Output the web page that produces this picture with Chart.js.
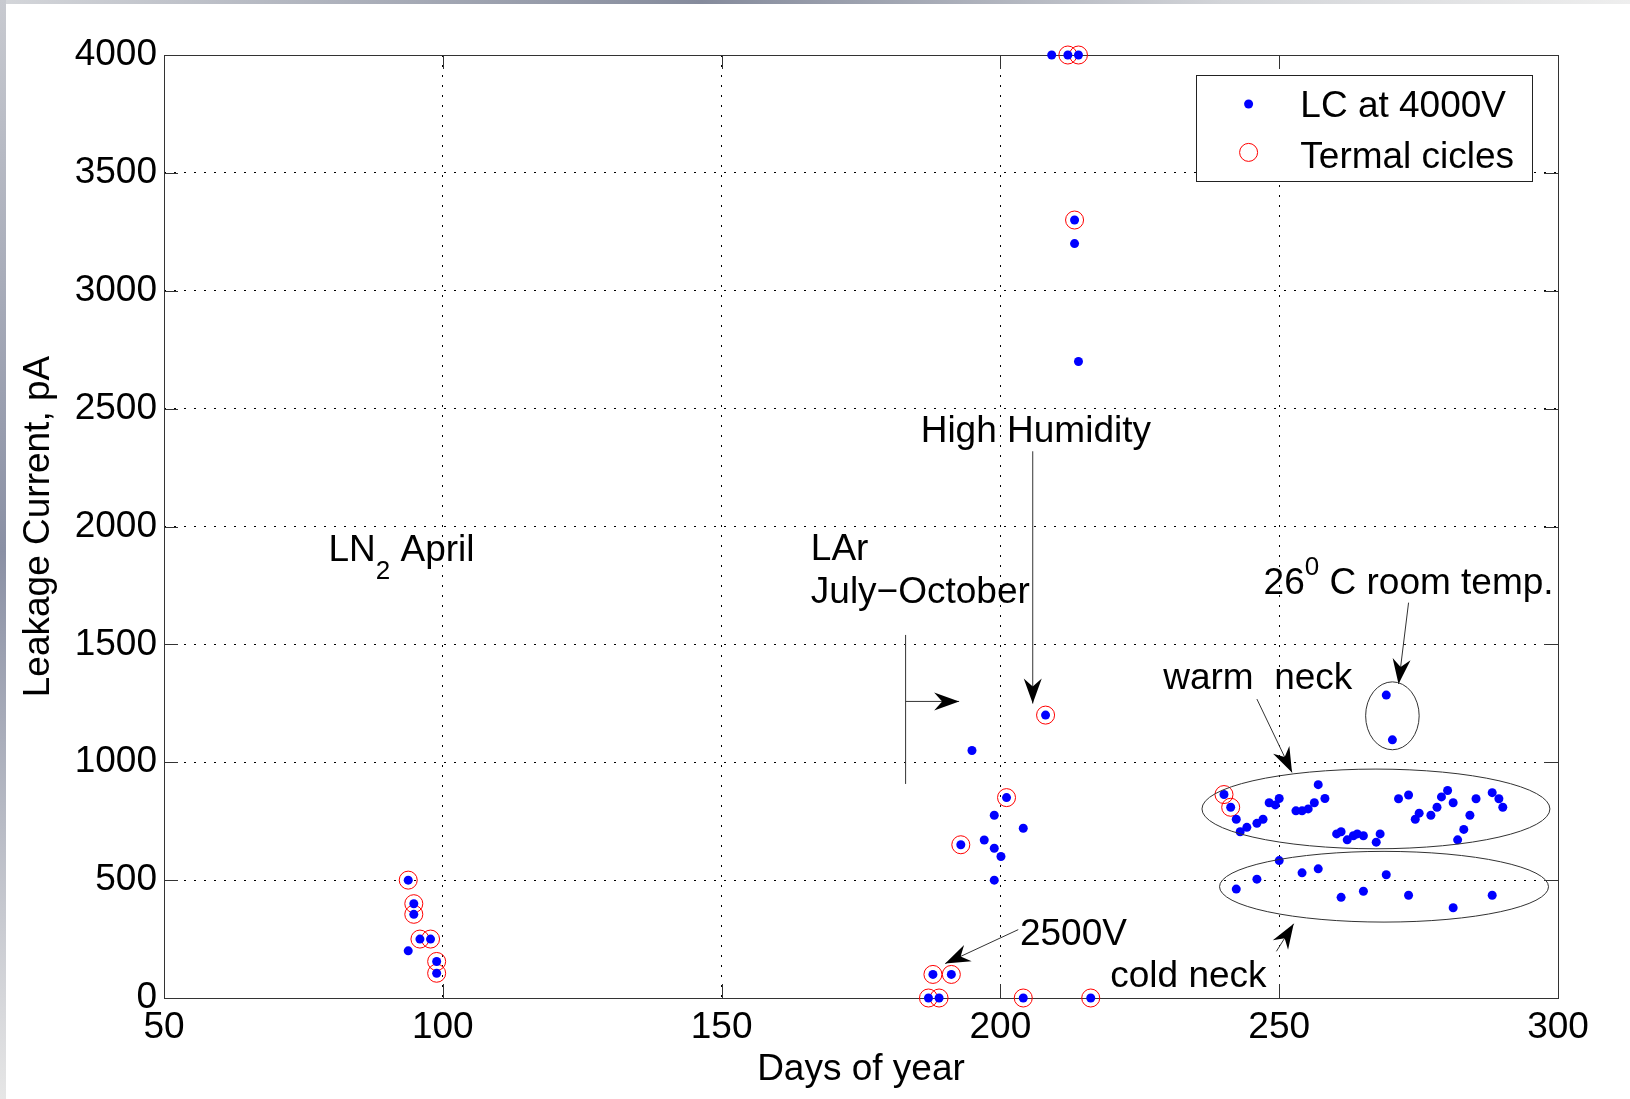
<!DOCTYPE html>
<html>
<head>
<meta charset="utf-8">
<title>Leakage Current vs Days of year</title>
<script src="https://cdn.jsdelivr.net/npm/chart.js@4.4.1/dist/chart.umd.min.js"></script>
<style>
  body { margin: 0; background: #fff; }
  canvas { display: block; }
</style>
</head>
<body>
<canvas id="myChart" width="1630" height="1099"></canvas>
<script>
// ticks
const xTicks = [50, 100, 150, 200, 250, 300];
const yTicks = [0, 500, 1000, 1500, 2000, 2500, 3000, 3500, 4000];

// LC at 4000V (blue dots)
const lcDays = [
  // LN2 April
  93.8, 94.8, 94.8, 95.9, 97.8, 93.8, 98.9, 98.9,
  // LAr July-October
  187.1, 189.0, 187.9, 191.2, 192.9, 194.9, 197.1, 198.9, 198.9, 198.9, 200.1, 201.1,
  204.1, 204.1, 208.1, 216.2, 209.2, 212.1, 214.0, 213.3, 213.3, 214.0,
  // room temp
  269.2, 270.3,
  // warm neck
  240.1, 241.3, 242.3, 243.0, 244.2, 246.0, 247.1, 248.2, 249.3, 250.0,
  253.0, 254.1, 255.2, 256.3, 257.0, 258.2, 260.3, 261.1, 262.2, 263.3,
  264.0, 265.1, 267.4, 268.1, 271.4, 273.2, 274.4, 275.1, 277.2, 278.3,
  279.1, 280.2, 281.2, 282.0, 283.1, 284.2, 285.3, 288.2, 289.4, 290.1,
  // cold neck
  242.3, 246.0, 250.0, 254.1, 257.0, 261.1, 265.1, 269.2, 273.2, 281.2, 288.2
];
const lcValues = [
  500, 400, 355, 250, 250, 200, 155, 105,
  0, 0, 100, 100, 650, 1050, 670, 775, 635, 500, 600, 850,
  720, 0, 1200, 0, 4000, 4000, 4000, 3300, 3200, 2700,
  1285, 1095,
  863, 809, 758, 705, 724, 741, 758, 828, 819, 846,
  794, 794, 802, 828, 905, 846, 696, 705, 671, 688,
  696, 688, 661, 696, 845, 861, 758, 784, 775, 809,
  853, 880, 828, 671, 715, 775, 845, 871, 845, 809,
  462, 504, 583, 531, 548, 427, 453, 523, 436, 383, 436
];

// Termal cicles (red circles)
const cycleDays = [93.8, 94.8, 94.8, 95.9, 97.8, 98.9, 98.9,
  187.1, 189.0, 187.9, 191.2, 192.9, 201.1, 204.1, 208.1, 216.2, 212.1, 214.0, 213.3,
  240.1, 241.3];
const cycleValues = [500, 400, 355, 250, 250, 155, 105,
  0, 0, 100, 100, 650, 850, 0, 1200, 0, 4000, 4000, 3300,
  863, 809];

const seriesNames = ['LC at 4000V', 'Termal cicles'];

function toPoints(xs, ys) {
  return xs.map((x, i) => ({x: x, y: ys[i]}));
}

const FONT = '"Liberation Sans", Arial, Helvetica, sans-serif';

// text with sub/superscript pieces: [text, shift(px), size]
function drawParts(ctx, parts, x, y) {
  let cx = x;
  parts.forEach(p => {
    ctx.font = p[2] + 'px ' + FONT;
    ctx.fillText(p[0], cx, y + p[1]);
    cx += ctx.measureText(p[0]).width;
  });
}

function arrow(ctx, x1, y1, x2, y2) {
  ctx.strokeStyle = '#333';
  ctx.lineWidth = 1;
  ctx.beginPath();
  ctx.moveTo(x1, y1);
  ctx.lineTo(x2, y2);
  ctx.stroke();
  const a = Math.atan2(y2 - y1, x2 - x1);
  ctx.save();
  ctx.translate(x2, y2);
  ctx.rotate(a);
  ctx.fillStyle = '#000';
  ctx.beginPath();
  ctx.moveTo(0, 0);
  ctx.lineTo(-25, -9);
  ctx.lineTo(-17, 0);
  ctx.lineTo(-25, 9);
  ctx.closePath();
  ctx.fill();
  ctx.restore();
}

const overlay = {
  id: 'overlay',
  beforeDraw(chart) {
    const ctx = chart.ctx;
    ctx.save();
    ctx.fillStyle = '#fff';
    ctx.fillRect(0, 0, chart.width, chart.height);
    // slide edges
    let g = ctx.createLinearGradient(0, 0, chart.width, 0);
    g.addColorStop(0, '#d4d6da');
    g.addColorStop(0.43, '#858b9c');
    g.addColorStop(0.75, '#d2d4d8');
    g.addColorStop(1, '#eeeeee');
    ctx.fillStyle = g;
    ctx.fillRect(0, 0, chart.width, 4);
    g = ctx.createLinearGradient(0, 0, 0, chart.height);
    g.addColorStop(0, '#c8cad0');
    g.addColorStop(0.5, '#8a90a4');
    g.addColorStop(1, '#e6e6e6');
    ctx.fillStyle = g;
    ctx.fillRect(0, 0, 6, chart.height);
    ctx.restore();
  },
  beforeDatasetsDraw(chart) {
    const ctx = chart.ctx;
    const a = chart.chartArea;
    const xs = chart.scales.x, ys = chart.scales.y;
    ctx.save();
    ctx.strokeStyle = '#333';
    ctx.lineWidth = 1;
    ctx.strokeRect(Math.round(a.left) + 0.5, Math.round(a.top) + 0.5, Math.round(a.right - a.left), Math.round(a.bottom - a.top));
    // inward ticks on all four sides
    ctx.beginPath();
    xTicks.forEach(v => {
      const p = Math.round(xs.getPixelForValue(v)) + 0.5;
      ctx.moveTo(p, a.bottom); ctx.lineTo(p, a.bottom - 14);
      ctx.moveTo(p, a.top); ctx.lineTo(p, a.top + 14);
    });
    yTicks.forEach(v => {
      const p = Math.round(ys.getPixelForValue(v)) + 0.5;
      ctx.moveTo(a.left, p); ctx.lineTo(a.left + 14, p);
      ctx.moveTo(a.right, p); ctx.lineTo(a.right - 14, p);
    });
    ctx.stroke();
    ctx.restore();
  },
  afterDatasetsDraw(chart) {
    const ctx = chart.ctx;
    const xs = chart.scales.x, ys = chart.scales.y;
    const X = v => xs.getPixelForValue(v);
    const Y = v => ys.getPixelForValue(v);
    ctx.save();
    ctx.fillStyle = '#000';
    ctx.textBaseline = 'alphabetic';
    ctx.textAlign = 'left';

    // labels
    drawParts(ctx, [['LN', 0, 37], ['2', 18, 26], [' April', 0, 37]], X(79.5), Y(1854));
    drawParts(ctx, [['LAr', 0, 37]], X(166.0), Y(1858));
    drawParts(ctx, [['July\u2212October', 0, 37]], X(166.0), Y(1677));
    drawParts(ctx, [['High Humidity', 0, 37]], X(185.7), Y(2359));
    drawParts(ctx, [['2500V', 0, 37]], X(203.5), Y(223));
    drawParts(ctx, [['cold neck', 0, 37]], X(219.7), Y(47));
    drawParts(ctx, [['warm  neck', 0, 37]], X(229.2), Y(1310));
    drawParts(ctx, [['26', 0, 37], ['0', -19, 26], [' C room temp.', 0, 37]], X(247.2), Y(1715));

    // LAr bracket
    ctx.strokeStyle = '#333';
    ctx.lineWidth = 1;
    ctx.beginPath();
    ctx.moveTo(X(183.0), Y(1540));
    ctx.lineTo(X(183.0), Y(908));
    ctx.stroke();
    arrow(ctx, X(183.0), Y(1258), X(192.6), Y(1258));
    arrow(ctx, X(205.8), Y(2319), X(205.8), Y(1249));
    arrow(ctx, X(203.2), Y(290), X(190.1), Y(146));
    arrow(ctx, X(249.5), Y(198), X(252.6), Y(315));
    arrow(ctx, X(246.0), Y(1268), X(252.3), Y(957));
    arrow(ctx, X(273.2), Y(1677), X(271.4), Y(1332));

    // ellipses round the groups (center x, center y, half width in days, half height in pA)
    [[270.3, 1197, 4.8, 144], [267.35, 802, 31.2, 169], [268.8, 472, 29.5, 150]].forEach(e => {
      const cx = X(e[0]), cy = Y(e[1]);
      const rx = X(e[0] + e[2]) - cx, ry = cy - Y(e[1] + e[3]);
      ctx.beginPath();
      ctx.ellipse(cx, cy, rx, ry, 0, 0, Math.PI * 2);
      ctx.stroke();
    });

    // legend box
    const a = chart.chartArea;
    const lx = a.right - 362, ly = a.top + 20;
    ctx.fillStyle = '#fff';
    ctx.fillRect(lx, ly, 336, 106);
    ctx.strokeStyle = '#222';
    ctx.strokeRect(Math.round(lx) + 0.5, Math.round(ly) + 0.5, 336, 106);
    const d0 = chart.data.datasets[0], d1 = chart.data.datasets[1];
    ctx.fillStyle = d0.backgroundColor;
    ctx.beginPath();
    ctx.arc(lx + 52.6, ly + 29, 4.5, 0, Math.PI * 2);
    ctx.fill();
    ctx.strokeStyle = d1.borderColor;
    ctx.beginPath();
    ctx.arc(lx + 52.6, ly + 77.4, 9, 0, Math.PI * 2);
    ctx.stroke();
    ctx.fillStyle = '#000';
    ctx.font = '37px ' + FONT;
    ctx.fillText(d0.label, lx + 104.3, ly + 41.7);
    ctx.fillText(d1.label, lx + 104.3, ly + 93);
    ctx.restore();
  }
};

const myChart = document.getElementById('myChart');

let scatterChart = new Chart(myChart, {
  type: 'scatter',
  data: {
    datasets: [{
      label: seriesNames[0],
      data: toPoints(lcDays, lcValues),
      backgroundColor: '#0000ff',
      borderWidth: 0,
      pointRadius: 4.5,
      pointHoverRadius: 4.5,
      clip: false
    }, {
      label: seriesNames[1],
      data: toPoints(cycleDays, cycleValues),
      backgroundColor: 'rgba(0,0,0,0)',
      borderColor: '#ff0000',
      borderWidth: 1,
      pointRadius: 9,
      pointHoverRadius: 9,
      clip: false
    }]
  },
  options: {
    responsive: false,
    animation: false,
    devicePixelRatio: 1,
    layout: { padding: { top: 55, right: 72, left: 0, bottom: 0 } },
    plugins: {
      legend: { display: false },
      tooltip: { enabled: false }
    },
    scales: {
      x: {
        type: 'linear',
        min: 50,
        max: 300,
        afterBuildTicks: s => { s.ticks = xTicks.map(v => ({value: v})); },
        afterFit: s => { s.height = 101; },
        grid: { color: '#000', lineWidth: 1, drawTicks: false },
        border: { display: false, dash: [2, 8] },
        ticks: { color: '#000', padding: 8, font: { family: FONT, size: 37 }, callback: v => String(v) },
        title: { display: true, text: 'Days of year', color: '#000', padding: { top: 0, bottom: 7 }, font: { family: FONT, size: 37 } }
      },
      y: {
        type: 'linear',
        min: 0,
        max: 4000,
        afterBuildTicks: s => { s.ticks = yTicks.map(v => ({value: v})); },
        afterFit: s => { s.width = 164; },
        grid: { color: '#000', lineWidth: 1, drawTicks: false },
        border: { display: false, dash: [2, 8] },
        ticks: { color: '#000', padding: 7, font: { family: FONT, size: 37 }, callback: v => String(v) },
        title: { display: true, text: 'Leakage Current, pA', color: '#000', padding: { top: 17, bottom: 0 }, font: { family: FONT, size: 37 } }
      }
    }
  },
  plugins: [overlay]
});
</script>
</body>
</html>
